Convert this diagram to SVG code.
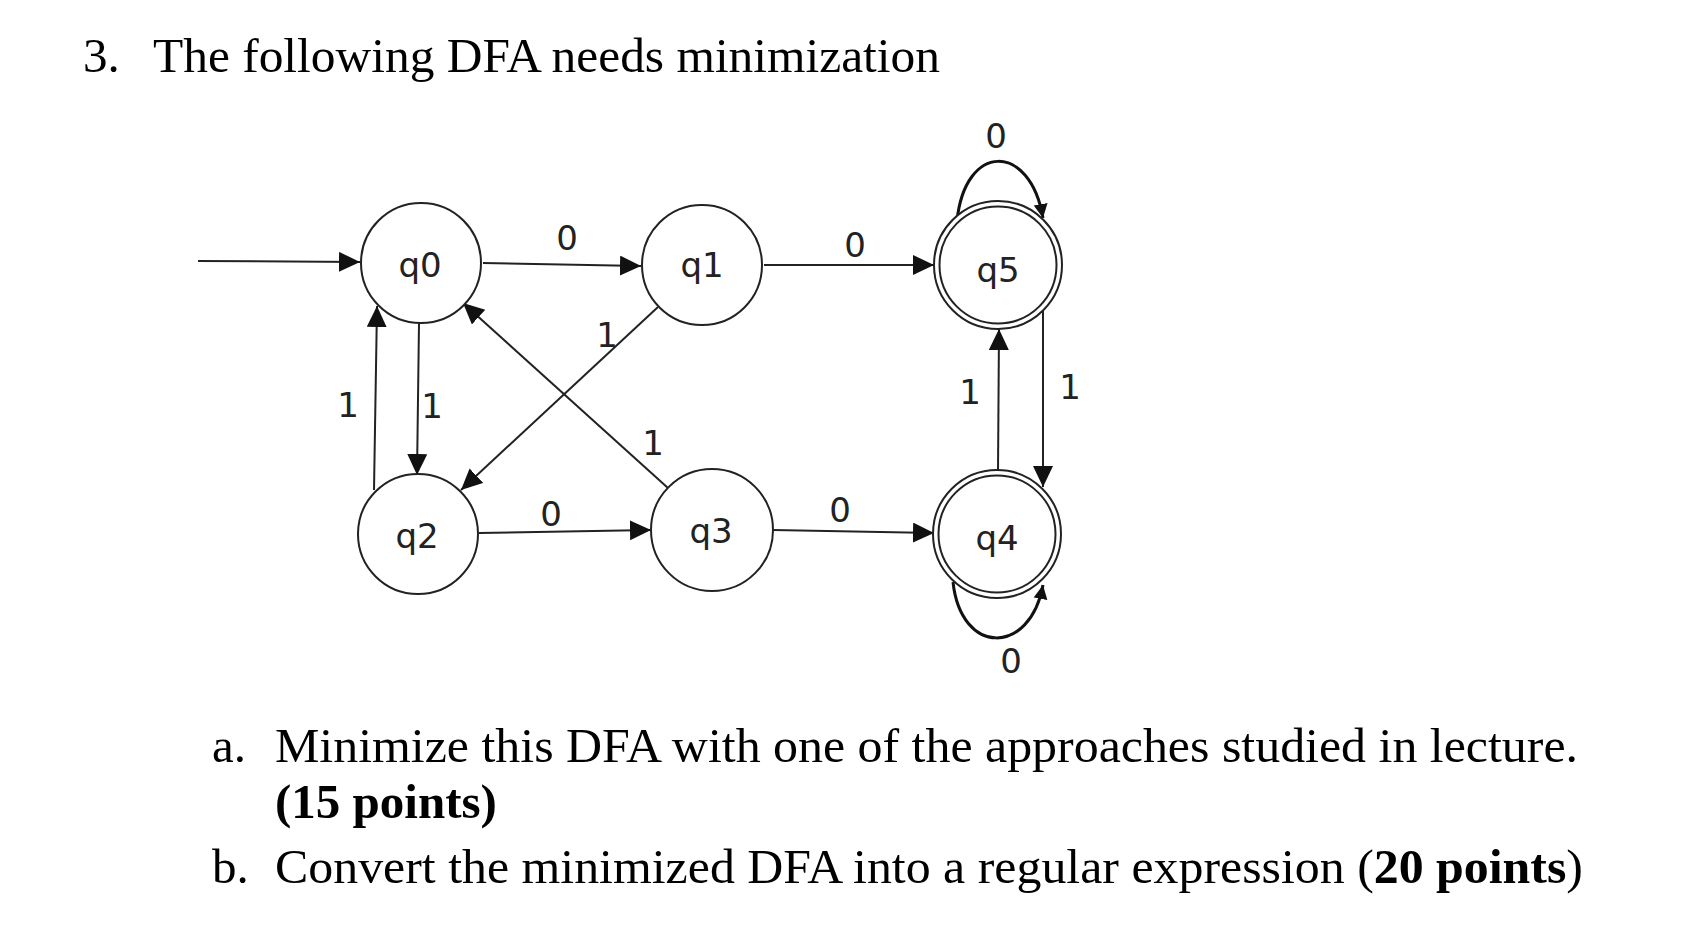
<svg xmlns="http://www.w3.org/2000/svg" width="1700" height="942" viewBox="0 0 1700 942">
<style>
.doc{font-family:"Liberation Serif","Times New Roman",serif;font-size:49px;fill:#000}
.b{font-weight:bold}
.st{fill:#fff;stroke:#222;stroke-width:2}
.sl{font-family:"DejaVu Sans",Verdana,sans-serif;font-size:34px;fill:#222;text-anchor:middle}
.e{fill:none;stroke:#222;stroke-width:2}
.lp{fill:none;stroke:#111;stroke-width:3}
</style>
<defs>
<marker id="ah" markerUnits="userSpaceOnUse" markerWidth="22" markerHeight="22" refX="21" refY="10" orient="auto">
<path d="M0,0 L21,10 L0,20 z" fill="#111"/>
</marker>
<marker id="ahs" markerUnits="userSpaceOnUse" markerWidth="16" markerHeight="16" refX="14" refY="7" orient="auto">
<path d="M0,0 L14,7 L0,14 z" fill="#111"/>
</marker>
</defs>
<rect width="1700" height="942" fill="#fff"/>
<g id="title">
<text class="doc" x="83" y="72">3.</text>
<text class="doc" x="153" y="72" textLength="787" lengthAdjust="spacingAndGlyphs">The following DFA needs minimization</text>
</g>
<g id="connectors">
<line class="e" x1="198" y1="261" x2="360" y2="262" marker-end="url(#ah)"/>
<line class="e" x1="483" y1="263" x2="641" y2="266" marker-end="url(#ah)"/>
<line class="e" x1="764" y1="265" x2="934" y2="265" marker-end="url(#ah)"/>
<path class="lp" d="M957,221 C965,142 1030,142 1043,218" marker-end="url(#ahs)"/>
<line class="e" x1="374" y1="490" x2="377" y2="306" marker-end="url(#ah)"/>
<line class="e" x1="419" y1="323" x2="417" y2="475" marker-end="url(#ah)"/>
<line class="e" x1="668" y1="488" x2="463" y2="303" marker-end="url(#ah)"/>
<line class="e" x1="658" y1="307" x2="461" y2="490" marker-end="url(#ah)"/>
<line class="e" x1="479" y1="533" x2="651" y2="530" marker-end="url(#ah)"/>
<line class="e" x1="773" y1="530" x2="934" y2="533" marker-end="url(#ah)"/>
<line class="e" x1="998" y1="471" x2="999" y2="329" marker-end="url(#ah)"/>
<line class="e" x1="1043" y1="310" x2="1043" y2="487" marker-end="url(#ah)"/>
<path class="lp" d="M953,582 C961,656 1030,656 1043,585" marker-end="url(#ahs)"/>
<g id="edge-labels" class="sl">
<text x="567" y="250">0</text>
<text x="855" y="257">0</text>
<text x="996" y="148">0</text>
<text x="551" y="526">0</text>
<text x="840" y="522">0</text>
<text x="1011" y="673">0</text>
<text x="348" y="417">1</text>
<text x="432" y="418">1</text>
<text x="607" y="347">1</text>
<text x="653" y="455">1</text>
<text x="970" y="404">1</text>
<text x="1070" y="399">1</text>
</g>
</g>
<g id="q0"><circle class="st" cx="421" cy="263" r="60"/><text class="sl" x="420" y="277">q0</text></g>
<g id="q1"><circle class="st" cx="702" cy="265" r="60"/><text class="sl" x="702" y="277">q1</text></g>
<g id="q5"><circle class="st" cx="998" cy="265" r="64"/><circle class="st" cx="998" cy="265" r="58.5"/><text class="sl" x="998" y="282">q5</text></g>
<g id="q2"><circle class="st" cx="418" cy="534" r="60"/><text class="sl" x="417" y="548">q2</text></g>
<g id="q3"><circle class="st" cx="712" cy="530" r="61"/><text class="sl" x="711" y="543">q3</text></g>
<g id="q4"><circle class="st" cx="997" cy="534" r="64"/><circle class="st" cx="997" cy="534" r="58.5"/><text class="sl" x="997" y="550">q4</text></g>
<g id="questions">
<text class="doc" x="212" y="762">a.</text>
<text class="doc" x="275" y="762" textLength="1303" lengthAdjust="spacingAndGlyphs">Minimize this DFA with one of the approaches studied in lecture.</text>
<text class="doc b" x="275" y="818">(15 points)</text>
<text class="doc" x="212" y="883">b.</text>
<text class="doc" x="275" y="883" textLength="1308" lengthAdjust="spacingAndGlyphs">Convert the minimized DFA into a regular expression (<tspan class="b">20 points</tspan>)</text>
</g>
</svg>
